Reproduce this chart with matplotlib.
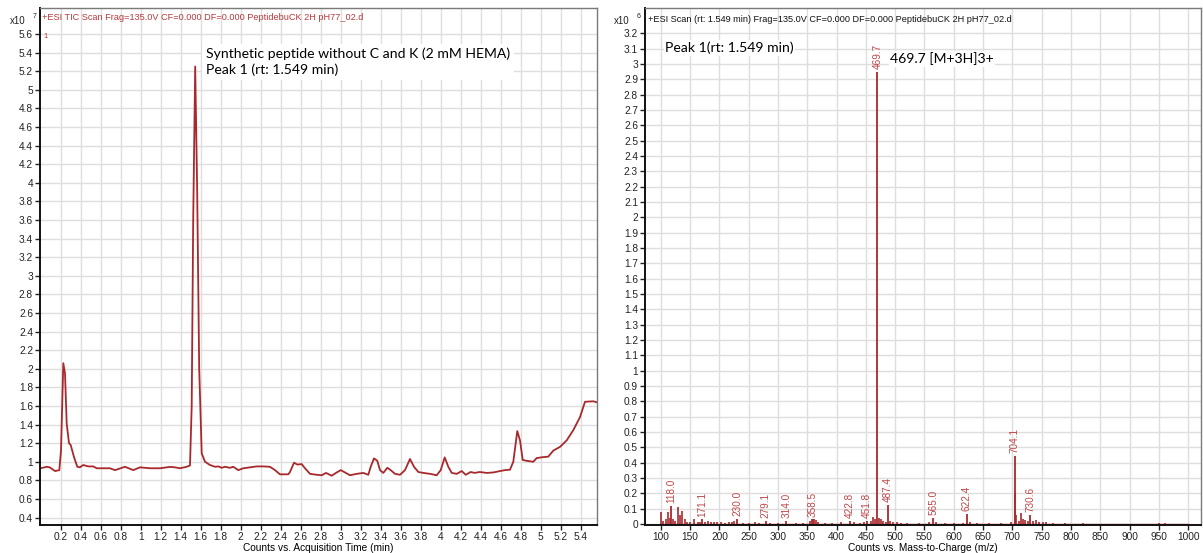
import matplotlib
matplotlib.use("Agg")
import matplotlib.pyplot as plt

# ---- TIC chromatogram (counts x10^7 vs. acquisition time, min) ----
tic_time = [0.00, 0.06, 0.09, 0.143, 0.186, 0.203, 0.226, 0.243, 0.26, 0.283, 0.30,
            0.333, 0.366, 0.39, 0.426, 0.476, 0.526, 0.56, 0.693, 0.743, 0.843, 0.926,
            0.993, 1.093, 1.193, 1.293, 1.343, 1.393, 1.46, 1.493, 1.51, 1.525, 1.545,
            1.565, 1.585, 1.61, 1.643, 1.693, 1.743, 1.776, 1.81, 1.843, 1.893, 1.926,
            1.976, 2.026, 2.093, 2.16, 2.226, 2.293, 2.343, 2.393, 2.476, 2.493, 2.533,
            2.566, 2.61, 2.643, 2.693, 2.76, 2.81, 2.853, 2.91, 2.96, 3.0, 3.043, 3.093,
            3.16, 3.226, 3.276, 3.3, 3.333, 3.366, 3.393, 3.426, 3.466, 3.5, 3.543,
            3.593, 3.643, 3.693, 3.733, 3.776, 3.826, 3.893, 3.96, 4.0, 4.04, 4.076,
            4.11, 4.16, 4.21, 4.25, 4.3, 4.34, 4.39, 4.46, 4.526, 4.593, 4.643, 4.693,
            4.726, 4.766, 4.793, 4.82, 4.86, 4.926, 4.96, 5.026, 5.076, 5.126, 5.193,
            5.26, 5.326, 5.393, 5.443, 5.526, 5.56]
tic_counts = [0.93, 0.946, 0.94, 0.90, 0.91, 1.12, 2.06, 1.95, 1.41, 1.20, 1.18,
              1.05, 0.946, 0.94, 0.965, 0.95, 0.95, 0.93, 0.93, 0.91, 0.946, 0.91,
              0.94, 0.93, 0.93, 0.945, 0.94, 0.93, 0.946, 0.96, 1.6, 3.6, 5.25,
              3.9, 2.0, 1.09, 1.0, 0.965, 0.946, 0.95, 0.935, 0.946, 0.935, 0.946,
              0.91, 0.93, 0.94, 0.95, 0.95, 0.946, 0.91, 0.865, 0.865, 0.89, 0.99,
              0.97, 0.975, 0.93, 0.87, 0.86, 0.855, 0.88, 0.85, 0.885, 0.91, 0.885, 0.855,
              0.87, 0.88, 0.86, 0.946, 1.036, 1.01, 0.91, 0.88, 0.935, 0.91, 0.87,
              0.86, 0.91, 1.03, 0.946, 0.89, 0.88, 0.87, 0.855, 0.91, 1.047, 0.946,
              0.88, 0.87, 0.90, 0.86, 0.89, 0.88, 0.89, 0.88, 0.885, 0.90, 0.91, 0.915,
              1.0, 1.33, 1.23, 1.02, 1.01, 1.0, 1.04, 1.05, 1.055, 1.12, 1.16,
              1.23, 1.34, 1.48, 1.645, 1.65, 1.64]

tic_xticks = [0.2, 0.4, 0.6, 0.8, 1, 1.2, 1.4, 1.6, 1.8, 2, 2.2, 2.4, 2.6, 2.8, 3,
              3.2, 3.4, 3.6, 3.8, 4, 4.2, 4.4, 4.6, 4.8, 5, 5.2, 5.4]
tic_yticks = [0.4, 0.6, 0.8, 1, 1.2, 1.4, 1.6, 1.8, 2, 2.2, 2.4, 2.6, 2.8, 3, 3.2,
              3.4, 3.6, 3.8, 4, 4.2, 4.4, 4.6, 4.8, 5, 5.2, 5.4, 5.6]

# ---- Mass spectrum at rt 1.549 min (counts x10^6 vs. m/z) ----
labeled_mz = [118.0, 171.1, 230.0, 279.1, 314.0, 358.5, 422.8, 451.8, 469.7,
              487.4, 565.0, 622.4, 704.1, 730.6]
labeled_int = [0.117, 0.030, 0.032, 0.020, 0.020, 0.030, 0.020, 0.020, 2.95,
               0.124, 0.040, 0.068, 0.444, 0.059]

other_mz = [100.5, 104, 108, 112, 115, 121, 125, 130, 133, 137, 141, 145, 150, 157,
            163, 167, 175, 180, 185, 190, 196, 202, 210, 216, 222, 225, 240, 250,
            260, 268, 286, 300, 330, 342, 355, 360, 362, 365, 368, 380, 392, 408,
            430, 440, 446, 458, 462, 466, 473, 476, 480, 484, 492, 497, 503, 510,
            520, 540, 558, 570, 585, 600, 615, 628, 640, 660, 680, 698, 705.2, 707,
            711, 715, 719, 722, 726, 735, 740, 745, 752, 758, 770, 790, 820, 950, 960]
other_int = [0.08, 0.02, 0.03, 0.08, 0.04, 0.03, 0.02, 0.113, 0.06, 0.085, 0.03,
             0.015, 0.01, 0.03, 0.012, 0.015, 0.012, 0.02, 0.015, 0.012, 0.01,
             0.01, 0.008, 0.01, 0.015, 0.02, 0.008, 0.006, 0.01, 0.008, 0.006,
             0.006, 0.008, 0.006, 0.02, 0.03, 0.03, 0.025, 0.015, 0.008, 0.006,
             0.01, 0.012, 0.006, 0.015, 0.02, 0.048, 0.03, 0.04, 0.035, 0.02,
             0.015, 0.02, 0.01, 0.012, 0.008, 0.006, 0.006, 0.015, 0.01, 0.006,
             0.005, 0.008, 0.01, 0.005, 0.005, 0.005, 0.01, 0.2, 0.06, 0.02, 0.07,
             0.03, 0.025, 0.02, 0.02, 0.025, 0.015, 0.012, 0.01, 0.006, 0.004,
             0.004, 0.004, 0.005]

ms_xticks = list(range(100, 1001, 50))
ms_yticks = [round(0.1 * i, 1) for i in range(0, 33)]

TRACE = "#a8292c"
LABEL = "#c0474a"
GRID = "#dedede"
W, H = 1203, 553

plt.rcParams["font.family"] = ["Liberation Sans", "DejaVu Sans"]


def fmt(v):
    s = f"{v:.1f}"
    return s[:-2] if s.endswith(".0") else s


def px(x, y):
    return x / W, 1 - y / H


def style_axes(ax, xticks, yticks):
    ax.set_xticks(xticks)
    ax.set_yticks(yticks)
    ax.set_xticklabels([fmt(t) for t in xticks])
    ax.set_yticklabels([fmt(t) for t in yticks])
    ax.grid(True, color=GRID, lw=1.0)
    ax.set_axisbelow(True)
    ax.tick_params(axis="both", labelsize=7.3, length=3.5, width=1.0,
                   pad=1.5, colors="#222222")
    for side in ("left", "bottom"):
        ax.spines[side].set_color("#111111")
        ax.spines[side].set_linewidth(1.4)
    for side in ("top", "right"):
        ax.spines[side].set_color("#7a7a7a")
        ax.spines[side].set_linewidth(1.0)


fig = plt.figure(figsize=(W / 100, H / 100), dpi=100)
fig.patch.set_facecolor("white")

# Left: total ion chromatogram
ax1 = fig.add_axes([40 / W, 28 / H, 557 / W, 517 / H])
ax1.plot(tic_time, tic_counts, color=TRACE, lw=1.3, solid_joinstyle="round")
ax1.set_xlim(-0.007, 5.563)
ax1.set_ylim(0.32, 5.879)
style_axes(ax1, tic_xticks, tic_yticks)
ax1.set_xlabel("Counts vs. Acquisition Time (min)", fontsize=7.3, labelpad=1)

fig.text(*px(206, 62), "Synthetic peptide without C and K (2 mM HEMA)\nPeak 1 (rt: 1.549 min)",
         ha="left", va="center", family=["Lato", "DejaVu Sans"], fontsize=10.1,
         linespacing=1.3, bbox=dict(facecolor="white", edgecolor="none", pad=3))

fig.text(*px(42, 18), "+ESI TIC Scan Frag=135.0V CF=0.000 DF=0.000 PeptidebuCK 2H pH77_02.d",
         color="#b8383a", fontsize=6.6, va="center", ha="left")
fig.text(*px(10, 21), "x10", fontsize=7, va="center", ha="left", color="#222222")
fig.text(*px(33, 16), "7", fontsize=5, va="center", ha="left", color="#222222")
fig.text(*px(43, 36), "1", fontsize=5.5, va="center", ha="left", color="#b8383a")

# Right: mass spectrum
ax2 = fig.add_axes([645 / W, 28 / H, 556 / W, 517 / H])
ax2.plot([98, 1000], [0, 0], color=TRACE, lw=1.0)
ax2.vlines(other_mz, 0, other_int, color=TRACE, lw=1.2)
ax2.vlines(labeled_mz, 0, labeled_int, color=TRACE, lw=1.3)
for mz, h in zip(labeled_mz, labeled_int):
    ax2.annotate(f"{mz:.1f}", (mz, h), xytext=(0, 2), textcoords="offset points",
                 rotation=90, ha="center", va="bottom", fontsize=7.2, color=LABEL)
ax2.set_xlim(73, 1022)
ax2.set_ylim(-0.0065, 3.366)
style_axes(ax2, ms_xticks, ms_yticks)
ax2.set_xlabel("Counts vs. Mass-to-Charge (m/z)", fontsize=7.3, labelpad=1)

fig.text(*px(665, 48), "Peak 1(rt: 1.549 min)", fontsize=10.1, va="center", ha="left",
         family=["Lato", "DejaVu Sans"], bbox=dict(facecolor="white", edgecolor="none", pad=1))
fig.text(*px(890, 59), "469.7 [M+3H]3+", fontsize=10.1, va="center", ha="left",
         family=["Lato", "DejaVu Sans"], bbox=dict(facecolor="white", edgecolor="none", pad=1))
fig.text(*px(648, 19), "+ESI Scan (rt: 1.549 min) Frag=135.0V CF=0.000 DF=0.000 PeptidebuCK 2H pH77_02.d",
         color="#111111", fontsize=6.6, va="center", ha="left")
fig.text(*px(614, 21), "x10", fontsize=7, va="center", ha="left", color="#222222")
fig.text(*px(637, 16), "6", fontsize=5, va="center", ha="left", color="#222222")

fig.savefig("out.png", dpi=100, facecolor="white")
